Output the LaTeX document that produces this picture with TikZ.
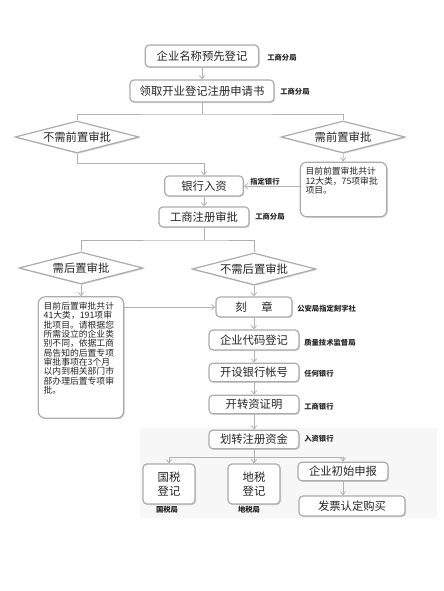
\documentclass[tikz,border=0pt]{standalone}
\usepackage{fontspec}
\setmainfont{Noto Sans CJK SC}
\usetikzlibrary{shapes.geometric,shadows,arrows.meta}

\tikzset{
  box/.style={draw=gray!65, line width=0.9pt, rounded corners=3pt, fill=white,
    minimum height=15pt, inner sep=1pt, text=black!85,
    font=\fontsize{8.5}{11}\selectfont,
    drop shadow={shadow xshift=0.8pt, shadow yshift=-0.8pt, opacity=0.3}},
  note/.style={box, rounded corners=5pt, inner xsep=4pt, inner ysep=4pt,
    font=\fontsize{6.6}{7}\selectfont},
  dec/.style={diamond, draw=gray!65, line width=0.9pt, fill=white, aspect=5,
    inner sep=0pt, minimum width=93pt, minimum height=24pt, text=black!85,
    font=\fontsize{8.5}{11}\selectfont,
    drop shadow={shadow xshift=0.8pt, shadow yshift=-0.8pt, opacity=0.3}},
  lbl/.style={anchor=west, inner sep=0pt, text=black!85,
    font=\fontsize{5.5}{6}\selectfont\bfseries},
  line/.style={draw=gray!60, line width=0.6pt},
  arr/.style={line, -{Straight Barb[length=2.5pt,width=4pt]}}
}

\begin{document}
\begin{tikzpicture}[x=0.75pt,y=0.75pt,yscale=-1,xscale=1]
\useasboundingbox (0,0) rectangle (443,591);

% faint background of the last rows
\fill[gray!6] (140,428) rectangle (437,518);

% registration
\node[box, minimum width=85pt, minimum height=16.5pt] (name) at (202,56) {企业名称预先登记};
\node[box, minimum width=108pt, minimum height=16.5pt] (form) at (202,91) {领取开业登记注册申请书};

% pre-approval
\coordinate (s1) at (202,114);
\node[dec] (nopre) at (77,137) {不需前置审批};
\node[dec] (pre) at (343,137) {需前置审批};
\node[note] (prenote) at (343.5,189.5) {\parbox[c][33pt][t]{57pt}{目前前置审批共计\\12大类，75项审批\\项目。}};

\coordinate (s2) at (204,163);
\node[box, minimum width=59pt] (bank) at (204,186) {银行入资};
\node[box, minimum width=67.5pt] (check) at (204,217) {工商注册审批};

% post-approval
\coordinate (s3) at (204,240);
\node[dec] (post) at (81,268) {需后置审批};
\node[dec] (nopost) at (254,269) {不需后置审批};
\node[note] (postnote) at (81,357.5) {\parbox[c][83pt][t]{56pt}{目前后置审批共计\\41大类，191项审\\批项目。请根据您\\所需设立的企业类\\别不同，依据工商\\局告知的后置专项\\审批事项在3个月\\以内到相关部门市\\部办理后置专项审\\批。}};

\node[box, minimum width=57pt] (seal) at (254,307) {刻\hspace{1.3em}章};
\node[box, minimum width=67.5pt] (code) at (254,340) {企业代码登记};
\node[box, minimum width=67.5pt, minimum height=14pt] (acct) at (254,372.5) {开设银行帐号};
\node[box, minimum width=67.5pt, minimum height=14pt] (cert) at (254,404.5) {开转资证明};
\node[box, minimum width=67.5pt, minimum height=14pt] (fund) at (254,439.5) {划转注册资金};

% taxes
\coordinate (s4) at (254,457);
\node[box, minimum width=39pt, minimum height=30pt, align=center] (guo) at (169,484) {国税\\登记};
\node[box, minimum width=39pt, minimum height=30pt, align=center] (di) at (254,484) {地税\\登记};
\node[box, minimum width=67.5pt, minimum height=14pt] (init) at (343,471.5) {企业初始申报};
\node[box, minimum width=79.5pt] (bill) at (352,506) {发票认定购买};

% office labels
\node[lbl] (l1) at (267,58) {工商分局};
\node[lbl] (l2) at (280,92) {工商分局};
\node[lbl] (l3) at (250,182) {指定银行};
\node[lbl] (l4) at (255,217) {工商分局};
\node[lbl] (l5) at (297,309) {公安局指定刻字社};
\node[lbl] (l6) at (304,343) {质量技术监督局};
\node[lbl] (l7) at (304,374) {任何银行};
\node[lbl] (l8) at (304,407) {工商银行};
\node[lbl] (l9) at (304,439) {入资银行};
\node[lbl, anchor=center] (l10) at (167,510) {国税局};
\node[lbl, anchor=center] (l11) at (249,510) {地税局};

% connectors
\draw[arr] (name) -- (form);
\draw[line] (form) -- (s1);
\draw[line] (nopre.north) |- (s1) -| (pre.north);
\draw[arr] (pre) -- (prenote);
\draw[arr] (nopre.south) |- (s2) -- (bank.north);
\draw[arr] (bank.east -| prenote.west) -- (bank.east);
\draw[arr] (bank) -- (check);
\draw[line] (check) -- (s3);
\draw[line] (post.north) |- (s3) -| (nopost.north);
\draw[arr] (post) -- (postnote);
\draw[arr] (nopost) -- (seal);
\draw[arr] (seal.west -| postnote.east) -- (seal.west);
\draw[arr] (seal) -- (code);
\draw[arr] (code) -- (acct);
\draw[arr] (acct) -- (cert);
\draw[arr] (cert) -- (fund);
\draw[line] (fund) -- (s4);
\draw[arr] (s4) -| (guo.north);
\draw[arr] (s4) -- (di.north);
\draw[arr] (s4) -| (init.north);
\draw[arr] (init.south) -- (init.south |- bill.north);

\end{tikzpicture}
\end{document}
